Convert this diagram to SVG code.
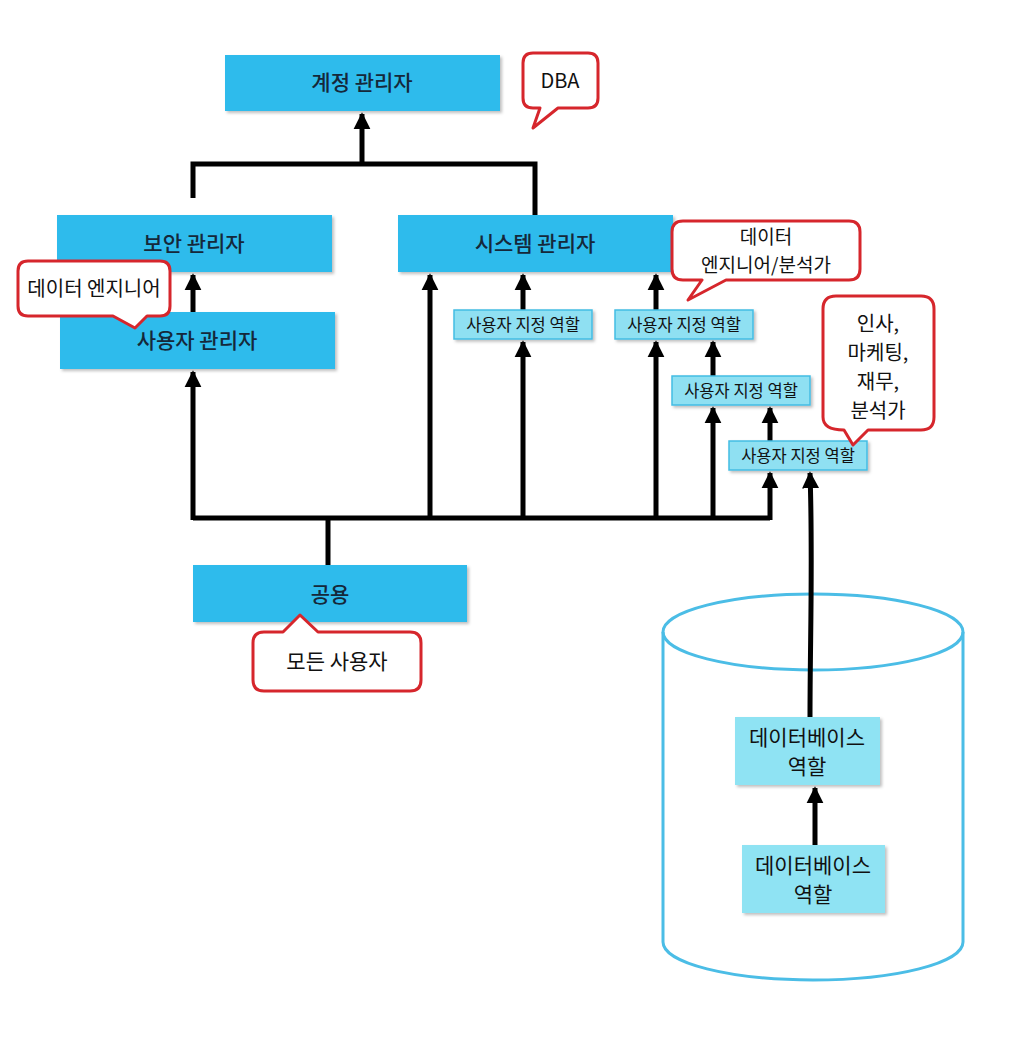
<svg xmlns="http://www.w3.org/2000/svg" width="1024" height="1040" viewBox="0 0 1024 1040">
<defs>
<style>
text{font-family:"Noto Sans CJK KR","Noto Sans",sans-serif;text-anchor:middle}
.main{fill:#2DBBEC}
.mt{font-size:21px;font-weight:500;fill:#15283a}
.role{fill:#8FE0F2;stroke:#43BDE3;stroke-width:1.5}
.rt{font-size:16.5px;fill:#111}
.db{fill:#8FE3F3}
.dt{font-size:21px;fill:#111}
.bub{fill:#fff;stroke:#D6262C;stroke-width:3;stroke-linejoin:round}
.bt{font-size:20px;fill:#111}
.ln{fill:none;stroke:#000;stroke-width:5}
.cyl{fill:none;stroke:#4BBDE6;stroke-width:3}
</style>
<marker id="ah" viewBox="0 0 10 10" refX="9" refY="5" markerWidth="3.4" markerHeight="3.8" orient="auto" markerUnits="strokeWidth">
<path d="M0,0 L10,5 L0,10 z" fill="#000"/>
</marker>
<filter id="sh" x="-5%" y="-10%" width="115%" height="130%">
<feDropShadow dx="2" dy="2" stdDeviation="1.5" flood-color="#000" flood-opacity="0.25"/>
</filter>
</defs>
<rect width="1024" height="1040" fill="#fff"/>

<g id="cylinder">
<ellipse class="cyl" cx="813" cy="632" rx="150" ry="38"/>
<path class="cyl" d="M663,632 L663,942 A150,38 0 0 0 963,942 L963,632"/>
</g>

<g id="connectors">
<path class="ln" d="M193,198 L193,164 L535,164 L535,215"/>
<path class="ln" d="M362,166 L362,114" marker-end="url(#ah)"/>
<path class="ln" d="M193,312 L193,275" marker-end="url(#ah)"/>
<path class="ln" d="M328,565 L328,518"/>
<path class="ln" d="M193,518 L770,518"/>
<path class="ln" d="M193,520 L193,372" marker-end="url(#ah)"/>
<path class="ln" d="M430,520 L430,275" marker-end="url(#ah)"/>
<path class="ln" d="M523,520 L523,342" marker-end="url(#ah)"/>
<path class="ln" d="M523,310 L523,275" marker-end="url(#ah)"/>
<path class="ln" d="M656,520 L656,342" marker-end="url(#ah)"/>
<path class="ln" d="M656,310 L656,275" marker-end="url(#ah)"/>
<path class="ln" d="M713,520 L713,408" marker-end="url(#ah)"/>
<path class="ln" d="M713,376 L713,342" marker-end="url(#ah)"/>
<path class="ln" d="M770,520 L770,473" marker-end="url(#ah)"/>
<path class="ln" d="M770,441 L770,408" marker-end="url(#ah)"/>
<path class="ln" d="M810,717 C810,640 813,560 810,473" marker-end="url(#ah)"/>
<path class="ln" d="M815,845 L815,788" marker-end="url(#ah)"/>
</g>

<g id="n-account">
<rect class="main" x="225" y="55" width="275" height="56" filter="url(#sh)"/>
<text class="mt" x="362" y="90">계정 관리자</text>
</g>
<g id="b-dba">
<path class="bub" d="M533,53 H588 Q598,53 598,63 V98 Q598,108 588,108 H558 L533,128 L540,108 H533 Q523,108 523,98 V63 Q523,53 533,53 Z"/>
<text class="bt" x="560" y="88">DBA</text>
</g>

<g id="n-security">
<rect class="main" x="57" y="215" width="275" height="57" filter="url(#sh)"/>
<text class="mt" x="194" y="251">보안 관리자</text>
</g>
<g id="n-system">
<rect class="main" x="398" y="215" width="275" height="57" filter="url(#sh)"/>
<text class="mt" x="535" y="251">시스템 관리자</text>
</g>
<g id="n-user">
<rect class="main" x="60" y="312" width="275" height="57" filter="url(#sh)"/>
<text class="mt" x="197" y="348">사용자 관리자</text>
</g>
<g id="b-engineer">
<path class="bub" d="M28,261 H160 Q170,261 170,271 V306 Q170,316 160,316 H147 L135,328 L113,316 H28 Q18,316 18,306 V271 Q18,261 28,261 Z"/>
<text class="bt" x="94" y="296">데이터 엔지니어</text>
</g>
<g id="b-engineer-analyst">
<path class="bub" d="M683,221 H849 Q860,221 860,232 V269 Q860,280 849,280 H726 L688,300 L702,280 H683 Q672,280 672,269 V232 Q672,221 683,221 Z"/>
<text class="bt" x="766" y="244" style="font-size:19px">데이터</text>
<text class="bt" x="766" y="272" style="font-size:19px">엔지니어/분석가</text>
</g>

<g id="n-role1">
<rect class="role" x="454" y="310" width="138" height="29" filter="url(#sh)"/>
<text class="rt" x="523" y="331">사용자 지정 역할</text>
</g>
<g id="n-role2">
<rect class="role" x="615" y="310" width="138" height="29" filter="url(#sh)"/>
<text class="rt" x="684" y="331">사용자 지정 역할</text>
</g>
<g id="n-role3">
<rect class="role" x="672" y="376" width="138" height="29" filter="url(#sh)"/>
<text class="rt" x="741" y="397">사용자 지정 역할</text>
</g>
<g id="n-role4">
<rect class="role" x="729" y="441" width="138" height="29" filter="url(#sh)"/>
<text class="rt" x="798" y="462">사용자 지정 역할</text>
</g>
<g id="b-hr">
<path class="bub" d="M836,296 H921 Q934,296 934,309 V417 Q934,430 921,430 H868 L853,445 L844,430 Q823,430 823,417 V309 Q823,296 836,296 Z"/>
<text class="bt" x="878" y="331">인사,</text>
<text class="bt" x="878" y="360">마케팅,</text>
<text class="bt" x="878" y="389">재무,</text>
<text class="bt" x="878" y="418">분석가</text>
</g>

<g id="n-public">
<rect class="main" x="193" y="565" width="274" height="57" filter="url(#sh)"/>
<text class="mt" x="330" y="602">공용</text>
</g>
<g id="b-all">
<path class="bub" d="M264,632 H283 L300,615 L318,632 H410 Q421,632 421,643 V680 Q421,691 410,691 H264 Q253,691 253,680 V643 Q253,632 264,632 Z"/>
<text class="bt" x="337" y="669" style="font-size:21px">모든 사용자</text>
</g>

<g id="n-dbrole1">
<rect class="db" x="735" y="717" width="145" height="68" filter="url(#sh)"/>
<text class="dt" x="807" y="745">데이터베이스</text>
<text class="dt" x="807" y="774">역할</text>
</g>
<g id="n-dbrole2">
<rect class="db" x="742" y="845" width="143" height="68" filter="url(#sh)"/>
<text class="dt" x="813" y="873">데이터베이스</text>
<text class="dt" x="813" y="902">역할</text>
</g>
</svg>
